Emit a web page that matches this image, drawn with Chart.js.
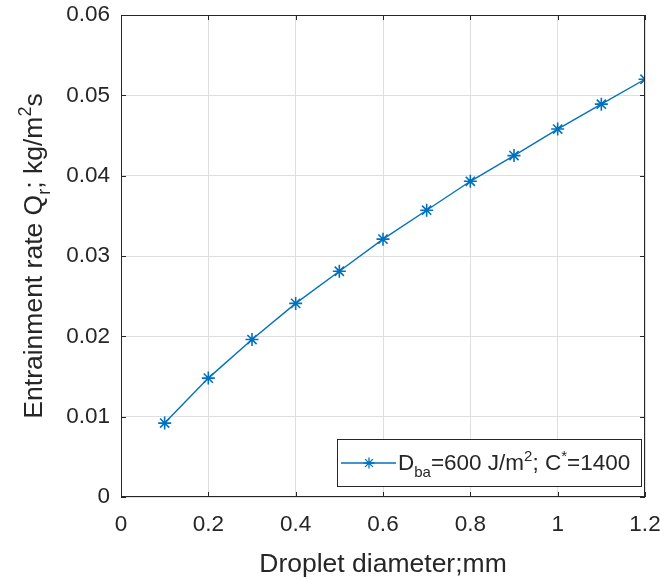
<!DOCTYPE html>
<html>
<head>
<meta charset="utf-8">
<script src="https://cdn.jsdelivr.net/npm/chart.js@4/dist/chart.umd.min.js"></script>
<style>
  html, body { margin: 0; padding: 0; background: #ffffff; }
  canvas { display: block; }
</style>
</head>
<body>
<canvas id="chart" width="660" height="579"></canvas>
<script>
// Droplet diameter (mm) and the corresponding entrainment rate (kg/m^2 s)
const diameters = [0.1, 0.2, 0.3, 0.4, 0.5, 0.6, 0.7, 0.8, 0.9, 1.0, 1.1, 1.2];
const entrainment = [0.0092, 0.0148, 0.0196, 0.0241, 0.0281, 0.0321, 0.0357, 0.0393, 0.0425, 0.0458, 0.0489, 0.0520];

const xTicks = [0, 0.2, 0.4, 0.6, 0.8, 1.0, 1.2];
const yTicks = [0, 0.01, 0.02, 0.03, 0.04, 0.05, 0.06];

const xTitle = 'Droplet diameter;mm';
// rich-text pieces: plain, subscript, superscript
const yTitleParts = [
  { t: 'Entrainment rate Q' }, { t: 'r', sub: true }, { t: '; kg/m' }, { t: '2', sup: true }, { t: 's' }
];
const legendParts = [
  { t: 'D' }, { t: 'ba', sub: true }, { t: '=600 J/m' }, { t: '2', sup: true }, { t: '; C' }, { t: '*', sup: true }, { t: '=1400' }
];

const LINE_COLOR = '#0072BD';
const AXIS_COLOR = '#262626';
const GRID_COLOR = '#dedede';
const FONT = '"Liberation Sans", Arial, Helvetica, sans-serif';

const points = diameters.map((d, i) => ({ x: d, y: entrainment[i] }));

function fmt(v) { return String(Number(v.toFixed(3))); }

function partFont(p, size) {
  const s = (p.sub || p.sup) ? Math.round(size * 0.68) : size;
  return s + 'px ' + FONT;
}
function richWidth(ctx, parts, size) {
  let w = 0;
  for (const p of parts) { ctx.font = partFont(p, size); w += ctx.measureText(p.t).width; }
  return w;
}
// draws parts starting at x on alphabetic baseline y
function drawRich(ctx, parts, x, y, size) {
  ctx.textAlign = 'left';
  ctx.textBaseline = 'alphabetic';
  for (const p of parts) {
    ctx.font = partFont(p, size);
    let dy = 0;
    if (p.sub) dy = size * 0.32;
    if (p.sup) dy = -size * 0.42;
    ctx.fillText(p.t, x, y + dy);
    x += ctx.measureText(p.t).width;
  }
}

const framePlugin = {
  id: 'frame',
  afterDraw(chart) {
    const { ctx, chartArea: a } = chart;
    const xs = chart.scales.x, ys = chart.scales.y;
    ctx.save();
    // axes box
    ctx.strokeStyle = AXIS_COLOR;
    ctx.lineWidth = 1;
    ctx.strokeRect(a.left + 0.5, a.top + 0.5, a.right - a.left - 1, a.bottom - a.top - 1);
    // inward tick marks on all sides
    const tl = 5;
    ctx.beginPath();
    for (const v of xTicks) {
      const px = Math.round(xs.getPixelForValue(v)) + 0.5;
      ctx.moveTo(px, a.bottom); ctx.lineTo(px, a.bottom - tl);
      ctx.moveTo(px, a.top); ctx.lineTo(px, a.top + tl);
    }
    for (const v of yTicks) {
      const py = Math.round(ys.getPixelForValue(v)) + 0.5;
      ctx.moveTo(a.left, py); ctx.lineTo(a.left + tl, py);
      ctx.moveTo(a.right, py); ctx.lineTo(a.right - tl, py);
    }
    ctx.stroke();

    // y-axis title, rotated
    ctx.fillStyle = '#262626';
    const ySize = 26.5;
    const w = richWidth(ctx, yTitleParts, ySize);
    ctx.save();
    ctx.translate(42, (a.top + a.bottom) / 2);
    ctx.rotate(-Math.PI / 2);
    drawRich(ctx, yTitleParts, -w / 2, 0, ySize);
    ctx.restore();

    // legend box in the lower-right corner
    const lx0 = 337, lx1 = a.right - 3, ly0 = 439, ly1 = 487;
    ctx.fillStyle = '#ffffff';
    ctx.fillRect(lx0, ly0, lx1 - lx0, ly1 - ly0);
    ctx.strokeStyle = AXIS_COLOR;
    ctx.strokeRect(lx0 + 0.5, ly0 + 0.5, lx1 - lx0 - 1, ly1 - ly0 - 1);
    const cy = (ly0 + ly1) / 2;
    ctx.strokeStyle = LINE_COLOR;
    ctx.lineWidth = 1.3;
    ctx.beginPath();
    ctx.moveTo(341, cy); ctx.lineTo(396, cy);
    ctx.stroke();
    Chart.helpers.drawPoint(ctx, { pointStyle: 'star', radius: 5.5, borderWidth: 1.3 }, 369, cy);
    ctx.fillStyle = '#262626';
    drawRich(ctx, legendParts, 398, cy + 7, 22.5);
    ctx.restore();
  }
};

new Chart(document.getElementById('chart'), {
  type: 'line',
  data: {
    datasets: [{
      data: points,
      borderColor: LINE_COLOR,
      backgroundColor: LINE_COLOR,
      borderWidth: 1.4,
      pointStyle: 'star',
      pointRadius: 6.5,
      pointBorderWidth: 1.6,
      pointBorderColor: LINE_COLOR,
      tension: 0,
      fill: false
    }]
  },
  options: {
    responsive: false,
    animation: false,
    layout: { padding: { left: 0, right: 15, top: 15, bottom: 0 } },
    plugins: { legend: { display: false }, tooltip: { enabled: false } },
    scales: {
      x: {
        type: 'linear',
        min: 0, max: 1.2,
        afterBuildTicks(s) { s.ticks = xTicks.map(v => ({ value: v })); },
        afterFit(s) { s.height = 82; s.paddingLeft = 0; s.paddingRight = 0; },
        border: { display: false },
        grid: { color: GRID_COLOR, drawTicks: false, lineWidth: 1 },
        ticks: {
          color: '#262626', padding: 14, maxRotation: 0, autoSkip: false,
          font: { family: FONT, size: 22.5 },
          callback: v => fmt(v)
        },
        title: {
          display: true, text: xTitle, color: '#262626',
          font: { family: FONT, size: 26.5 },
          padding: { top: 0, bottom: -2 }
        }
      },
      y: {
        type: 'linear',
        min: 0, max: 0.06,
        afterBuildTicks(s) { s.ticks = yTicks.map(v => ({ value: v })); },
        afterFit(s) { s.width = 121; s.paddingTop = 0; s.paddingBottom = 0; },
        border: { display: false },
        grid: { color: GRID_COLOR, drawTicks: false, lineWidth: 1 },
        ticks: {
          color: '#262626', padding: 11, autoSkip: false,
          font: { family: FONT, size: 22.5 },
          callback: v => fmt(v)
        }
      }
    }
  },
  plugins: [framePlugin]
});
</script>
</body>
</html>
